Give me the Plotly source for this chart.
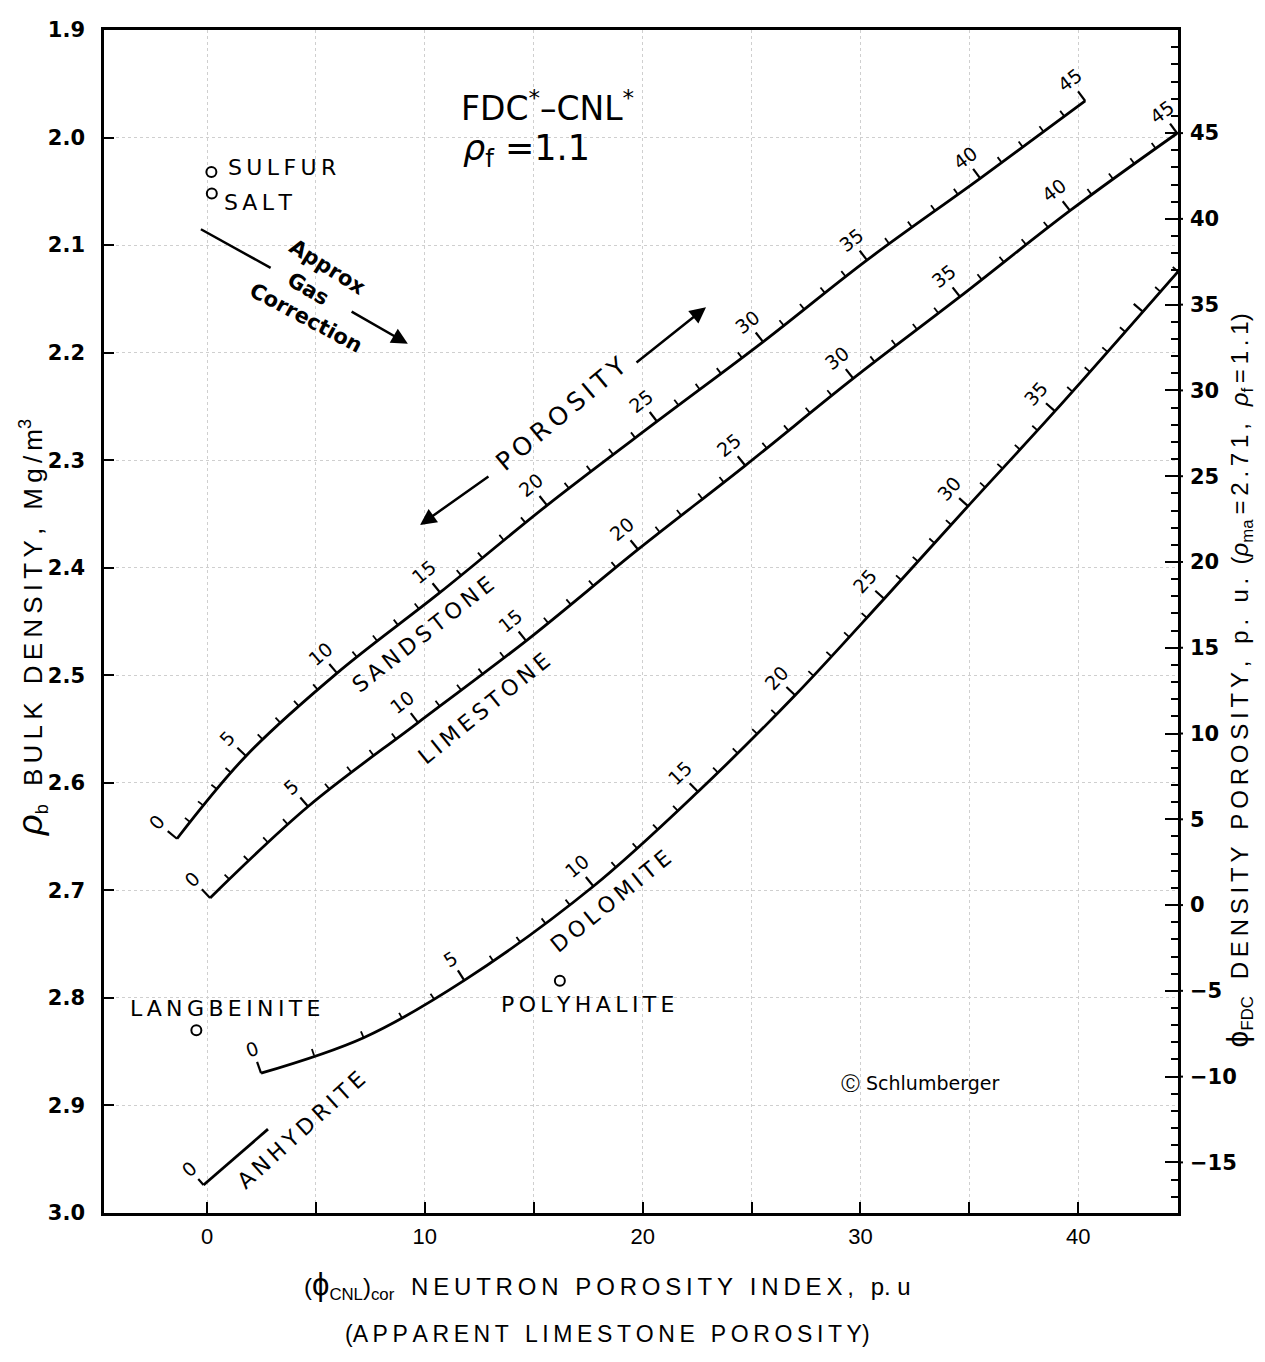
import numpy as np
import plotly.graph_objects as go

# ---------------- data ----------------
# porosity scale (p.u.) along each lithology line, neutron index (x) and bulk density (y)
sand_phi = [0, 5, 10, 15, 20, 25, 30, 35, 40, 45]
sand_cnl = [-1.38, 1.79, 5.97, 10.70, 15.61, 20.66, 25.53, 30.30, 35.50, 40.32]
sand_rho = [2.652, 2.575, 2.498, 2.423, 2.342, 2.264, 2.190, 2.114, 2.038, 1.966]

lime_phi = [0, 5, 10, 15, 20, 25, 30, 35, 40, 45]
lime_cnl = [0.14, 4.64, 9.69, 14.65, 19.79, 24.71, 29.67, 34.57, 39.62, 44.54]
lime_rho = [2.707, 2.622, 2.544, 2.468, 2.383, 2.305, 2.224, 2.148, 2.068, 1.996]

dol_phi = [0, 2, 5, 10, 15, 20, 25, 30, 35, 42]
dol_cnl = [2.48, 7.19, 11.81, 17.74, 22.54, 27.0, 31.09, 34.94, 38.93, 44.58]
dol_rho = [2.870, 2.837, 2.7837, 2.6962, 2.6083, 2.5186, 2.4288, 2.3427, 2.2544, 2.1246]

anh_cnl = [-0.16, 2.80]
anh_rho = [2.974, 2.922]

mineral_names = ["SULFUR", "SALT", "LANGBEINITE", "POLYHALITE"]
mineral_cnl = [0.2, 0.22, -0.49, 16.2]
mineral_rho = [2.032, 2.052, 2.830, 2.784]

x_tickvals = [0, 5, 10, 15, 20, 25, 30, 35, 40]
x_ticktext = ["0", " ", "10", " ", "20", " ", "30", " ", "40"]
y_tickvals = [1.9, 2.0, 2.1, 2.2, 2.3, 2.4, 2.5, 2.6, 2.7, 2.8, 2.9, 3.0]
y2_tickvals = [-15, -10, -5, 0, 5, 10, 15, 20, 25, 30, 35, 40, 45]

# ---------------- layout geometry ----------------
# the page body adds an 8 px margin, so the figure is 8 px smaller each way
W, H = 1257, 1354
ML, MR, MT, MB = 96, 87, 10, 149
X_RANGE = [-4.73, 44.58]
Y_RANGE = [3.0, 1.9]
Y2_RANGE = [-17.95, 51.01]
PW = W - ML - MR
PH = H - MT - MB
SX = PW / (X_RANGE[1] - X_RANGE[0])      # px per neutron unit
SY = PH / (Y_RANGE[0] - Y_RANGE[1])      # px per g/cc (downwards)

THIN = "\u2009"


def sp(s):
    return THIN.join(s)


def herm(p, v, t):
    p = np.asarray(p, float)
    v = np.asarray(v, float)
    n = len(p)
    m = np.zeros(n)
    m[0] = (v[1] - v[0]) / (p[1] - p[0])
    m[-1] = (v[-1] - v[-2]) / (p[-1] - p[-2])
    for i in range(1, n - 1):
        d0 = (v[i] - v[i - 1]) / (p[i] - p[i - 1])
        d1 = (v[i + 1] - v[i]) / (p[i + 1] - p[i])
        m[i] = (d0 * (p[i + 1] - p[i]) + d1 * (p[i] - p[i - 1])) / (p[i + 1] - p[i - 1])
    i = int(np.clip(np.searchsorted(p, t, side="right") - 1, 0, n - 2))
    h = p[i + 1] - p[i]
    s = (t - p[i]) / h
    val = ((2 * s**3 - 3 * s**2 + 1) * v[i] + (s**3 - 2 * s**2 + s) * h * m[i]
           + (-2 * s**3 + 3 * s**2) * v[i + 1] + (s**3 - s**2) * h * m[i + 1])
    der = ((6 * s**2 - 6 * s) / h * v[i] + (3 * s**2 - 4 * s + 1) * m[i]
           + (-6 * s**2 + 6 * s) / h * v[i + 1] + (3 * s**2 - 2 * s) * m[i + 1])
    return val, der


fig = go.Figure()
annotations = []
NUMF = dict(family="DejaVu Sans", size=19, color="black")


def add_scale(phi, cnl, rho, label_max, minor_len=7, major_len=12, lab_off=26):
    fig.add_trace(go.Scatter(x=cnl, y=rho, mode="lines",
                             line=dict(color="black", width=2.8, shape="spline", smoothing=1.0),
                             hoverinfo="skip", showlegend=False))
    mjx, mjy, mnx, mny = [], [], [], []
    for f in range(int(phi[0]), int(phi[-1]) + 1):
        x, dx = herm(phi, cnl, f)
        r, dr = herm(phi, rho, f)
        tx, ty = dx * SX, dr * SY
        nn = np.hypot(tx, ty)
        nx, ny = ty / nn, -tx / nn
        major = f % 5 == 0
        L = major_len if major else minor_len
        xe, ye = x + nx * L / SX, r + ny * L / SY
        if major:
            mjx += [x, xe, None]
            mjy += [r, ye, None]
            if f <= label_max:
                ang = np.degrees(np.arctan2(-ty, tx))
                annotations.append(dict(x=x + nx * lab_off / SX, y=r + ny * lab_off / SY,
                                        text=str(f), textangle=-ang, font=NUMF))
        else:
            mnx += [x, xe, None]
            mny += [r, ye, None]
    fig.add_trace(go.Scatter(x=mjx, y=mjy, mode="lines", line=dict(color="black", width=2.2),
                             hoverinfo="skip", showlegend=False))
    fig.add_trace(go.Scatter(x=mnx, y=mny, mode="lines", line=dict(color="black", width=1.8),
                             hoverinfo="skip", showlegend=False))


add_scale(sand_phi, sand_cnl, sand_rho, 45)
add_scale(lime_phi, lime_cnl, lime_rho, 45)
add_scale(dol_phi, dol_cnl, dol_rho, 35)

# anhydrite short line with its zero mark
fig.add_trace(go.Scatter(x=anh_cnl, y=anh_rho, mode="lines", line=dict(color="black", width=2.8),
                         hoverinfo="skip", showlegend=False))
atx = (anh_cnl[1] - anh_cnl[0]) * SX
aty = (anh_rho[1] - anh_rho[0]) * SY
an = np.hypot(atx, aty)
anx, any_ = aty / an, -atx / an
fig.add_trace(go.Scatter(x=[anh_cnl[0], anh_cnl[0] + anx * 8 / SX], y=[anh_rho[0], anh_rho[0] + any_ * 8 / SY],
                         mode="lines", line=dict(color="black", width=2.2), hoverinfo="skip", showlegend=False))
annotations.append(dict(x=anh_cnl[0] + anx * 22 / SX, y=anh_rho[0] + any_ * 22 / SY, text="0",
                        textangle=-np.degrees(np.arctan2(-aty, atx)), font=NUMF))

# mineral points
fig.add_trace(go.Scatter(x=mineral_cnl, y=mineral_rho, mode="markers",
                         marker=dict(symbol="circle-open", size=10, color="black", line=dict(width=2)),
                         hoverinfo="skip", showlegend=False))

LBL = dict(family="DejaVu Sans", size=22, color="black")
BLD = dict(family="DejaVu Sans", size=21, color="black", weight="bold")
annotations += [
    dict(x=0.87, y=2.0277, text=sp("SULFUR"), xanchor="left", font=LBL),
    dict(x=0.71, y=2.0608, text=sp("SALT"), xanchor="left", font=LBL),
    dict(x=0.87, y=2.8103, text=sp("LANGBEINITE"), font=LBL),
    dict(x=17.49, y=2.8057, text=sp("POLYHALITE"), font=LBL),
    dict(x=9.92, y=2.4624, text=sp("SANDSTONE"), textangle=-38, font=LBL),
    dict(x=12.72, y=2.5305, text=sp("LIMESTONE"), textangle=-39, font=LBL),
    dict(x=18.53, y=2.710, text=sp("DOLOMITE"), textangle=-39, font=LBL),
    dict(x=4.36, y=2.9227, text=sp("ANHYDRITE"), textangle=-42, font=LBL),
    dict(x=16.29, y=2.257, text=sp("POROSITY"), textangle=-40, font=dict(family="DejaVu Sans", size=25, color="black")),
    dict(x=15.61, y=1.9715, text="FDC<sup>*</sup>–CNL<sup>*</sup>", font=dict(family="DejaVu Sans", size=33, color="black")),
    dict(x=14.69, y=2.0125, text="<i>ρ</i><sub>f</sub> =1.1", font=dict(family="DejaVu Sans", size=35, color="black")),
    dict(x=32.74, y=2.8794, text="Ⓒ Schlumberger", font=dict(family="DejaVu Sans", size=19, color="black")),
    dict(x=5.53, y=2.1205, text="Approx", textangle=32, font=BLD),
    dict(x=4.64, y=2.1412, text="Gas", textangle=30, font=BLD),
    dict(x=4.55, y=2.168, text="Correction", textangle=28, font=BLD),
]
for a in annotations:
    a.setdefault("xref", "x")
    a.setdefault("yref", "y")
    a.setdefault("showarrow", False)
    a.setdefault("xanchor", "center")
    a.setdefault("yanchor", "middle")

# arrows
ARW = dict(xref="x", yref="y", axref="x", ayref="y", text="", showarrow=True, arrowhead=2, arrowsize=1.3,
           arrowwidth=2.5, arrowcolor="black")
annotations += [
    dict(x=9.78, y=2.3602, ax=12.99, ay=2.3142, **ARW),
    dict(x=22.91, y=2.1577, ax=19.65, ay=2.2102, **ARW),
    dict(x=9.22, y=2.1918, ax=6.57, ay=2.1611, **ARW),
]
fig.add_shape(type="line", x0=-0.28, y0=2.0853, x1=2.92, y1=2.1212, xref="x", yref="y",
              line=dict(color="black", width=2.5))

# major right-axis ticks poke slightly outside the frame
for v in y2_tickvals:
    fig.add_shape(type="line", xref="paper", yref="y2", x0=1.0, x1=1.0 + 5 / PW, y0=v, y1=v,
                  line=dict(color="black", width=2))

# axis titles
GAP = "\u2002\u2009"
left_title = ('<span style="font-size:36px"><i>ρ</i></span><sub>b</sub>' + GAP + sp("BULK") + GAP + sp("DENSITY,")
              + GAP + sp("Mg/m") + "<sup>3</sup>")
right_title = ('<span style="font-size:30px">ϕ</span><sub>FDC</sub>' + GAP + sp("DENSITY") + GAP + sp("POROSITY,")
               + GAP + sp("p. u.") + "  (<i>ρ</i><sub>ma</sub>" + THIN + "=" + THIN
               + sp("2.71,") + GAP + "<i>ρ</i><sub>f</sub>" + THIN + "=" + THIN + sp("1.1") + ")")
bottom1 = ('(<span style="font-size:31px">ϕ</span><sub>CNL</sub>)<sub>cor</sub>' + GAP + sp("NEUTRON") + GAP
           + sp("POROSITY") + GAP + sp("INDEX,") + GAP + "p. u")
bottom2 = "(" + sp("APPARENT") + GAP + sp("LIMESTONE") + GAP + sp("POROSITY") + ")"
PAPER = dict(xref="paper", yref="paper", showarrow=False, xanchor="center", yanchor="middle")
annotations += [
    dict(x=-0.0689, y=0.4946, text=left_title, textangle=-90, font=dict(family="Liberation Sans", size=26, color="black"), **PAPER),
    dict(x=1.0568, y=0.4502, text=right_title, textangle=-90, font=dict(family="Liberation Sans", size=24, color="black"), **PAPER),
    dict(x=0.4688, y=-0.0611, text=bottom1, font=dict(family="Liberation Sans", size=24, color="black"), **PAPER),
    dict(x=0.4688, y=-0.1021, text=bottom2, font=dict(family="Liberation Sans", size=23, color="black"), **PAPER),
]

# dummy trace to activate the right axis
fig.add_trace(go.Scatter(x=[X_RANGE[0]], y=[0], yaxis="y2", mode="markers", marker=dict(opacity=0),
                         hoverinfo="skip", showlegend=False))

fig.update_layout(
    width=W, height=H, autosize=False,
    margin=dict(l=ML, r=MR, t=MT, b=MB),
    plot_bgcolor="white", paper_bgcolor="white",
    font=dict(family="DejaVu Sans", color="black"),
    xaxis=dict(range=X_RANGE, tickvals=x_tickvals, ticktext=x_ticktext, ticks="inside", ticklen=11, tickwidth=1.8,
               tickcolor="black", showline=True, linewidth=2.5, linecolor="black", mirror=True,
               showgrid=True, gridcolor="#cfcfcf", griddash="dot", gridwidth=1, zeroline=False,
               tickfont=dict(family="Liberation Sans", size=22, color="black"), ticklabelstandoff=2),
    yaxis=dict(range=Y_RANGE, tickvals=y_tickvals, tickformat=".1f", ticks="inside", ticklen=10, tickwidth=1.8,
               tickcolor="black", showline=True, linewidth=2.5, linecolor="black",
               showgrid=True, gridcolor="#cfcfcf", griddash="dot", gridwidth=1, zeroline=False,
               tickfont=dict(family="DejaVu Sans", size=21, color="black", weight="bold"), ticklabelstandoff=12),
    yaxis2=dict(range=Y2_RANGE, overlaying="y", side="right", tickvals=y2_tickvals, ticks="inside", ticklen=13,
                tickwidth=2, tickcolor="black", showline=True, linewidth=2.5, linecolor="black",
                showgrid=False, zeroline=False,
                minor=dict(dtick=1, ticks="inside", ticklen=7, tickwidth=1.5, tickcolor="black"),
                tickfont=dict(family="DejaVu Sans", size=21, color="black", weight="bold"), ticklabelstandoff=5),
    annotations=annotations,
)

fig.write_html("out.html")
